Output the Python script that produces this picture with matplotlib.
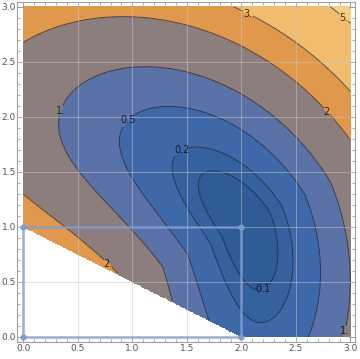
import numpy as np
import matplotlib
matplotlib.use("Agg")
import matplotlib.pyplot as plt

# contour levels and the fill colour of each band (Mathematica style)
levels = [0.1, 0.2, 0.5, 1, 2, 3, 5]
band_colors = ["#2f5b96", "#35619f", "#3e68a8", "#5a72a8", "#8d7e7e",
               "#e0994c", "#f2bc6e", "#f7cd82"]
level_text = {0.1: "0.1", 0.2: "0.2", 0.5: "0.5", 1: "1.", 2: "2.", 3: "3.", 5: "5."}
# where the contour labels sit (nearest point on the line is used)
label_spots = [(2.2, 0.43), (1.45, 1.70), (0.96, 1.97), (0.33, 2.06),
               (2.95, 0.05), (0.75, 0.64), (2.81, 2.06), (2.08, 2.98),
               (2.97, 2.94)]

# constraint rectangle drawn on top
rect_x = [0, 2, 2, 0, 0]
rect_y = [0, 0, 1, 1, 0]
corner_x = [0, 2, 2, 0]
corner_y = [0, 0, 1, 1]

# shape of the surface (valley round the circle through (2,1))
r_mid, r_top, f_min, ang_w = 2.28, 1.98, 0.02, 1.1
rad_in, rad_out = 1.35, 1.3


def surface(x, y):
    r = np.hypot(x, y)
    th = np.arctan2(y, x)
    th0 = np.arctan2(1, 2)
    d = th - th0
    rv = np.where(d > 0, r_mid - (r_mid - r_top) * d / (np.pi / 2 - th0),
                  r_mid + 0.1 * d / th0)
    dr = r - rv
    k = np.where(dr < 0, rad_in, rad_out)
    return f_min + ang_w * d ** 2 + k * dr ** 2


xs = np.linspace(0, 3, 400)
ys = np.linspace(0, 3, 400)
X, Y = np.meshgrid(xs, ys)
Z = surface(X, Y)
Z = np.where(X / 2 + Y >= 1, Z, np.nan)

fig = plt.figure(figsize=(3.6, 3.59), dpi=100)
ax = fig.add_axes([0.048, 0.047, 0.938, 0.947])

bounds = [-1] + levels + [100]
ax.contourf(X, Y, Z, levels=bounds, colors=band_colors)
cs = ax.contour(X, Y, Z, levels=levels, colors="#1c2638", linewidths=0.7, alpha=0.75)
labs = ax.clabel(cs, levels=levels, fmt=level_text, manual=label_spots,
                 inline=True, inline_spacing=1, fontsize=7, colors="black")
for t in labs:
    t.set_rotation(0)

# grid
for v in np.arange(0.5, 3.0, 0.5):
    ax.axvline(v, color="#c8c8c8", lw=0.6, alpha=0.6, zorder=3)
    ax.axhline(v, color="#c8c8c8", lw=0.6, alpha=0.6, zorder=3)

ax.plot(rect_x, rect_y, color="#7e9bd0", lw=1.8, alpha=0.8, zorder=4)
ax.plot(corner_x, corner_y, "o", color="#7e9bd0", ms=3.5, alpha=0.9, zorder=5)

ax.set_xlim(-0.055, 3.041)
ax.set_ylim(-0.048, 3.043)
ticks = np.arange(0, 3.01, 0.5)
ax.set_xticks(ticks)
ax.set_yticks(ticks)
ax.set_xticklabels([f"{t:.1f}" for t in ticks])
ax.set_yticklabels([f"{t:.1f}" for t in ticks])
ax.set_xticks(np.arange(0, 3.01, 0.1), minor=True)
ax.set_yticks(np.arange(0, 3.01, 0.1), minor=True)
ax.tick_params(which="both", direction="in", top=True, right=True,
               color="#9a9a9a", labelcolor="#555555", labelsize=6.5, pad=1)
ax.tick_params(which="major", length=4.5, width=0.7)
ax.tick_params(which="minor", length=2.5, width=0.6)
for s in ax.spines.values():
    s.set_color("#a0a0a0")
    s.set_linewidth(0.8)

fig.savefig("out.png", dpi=100)
